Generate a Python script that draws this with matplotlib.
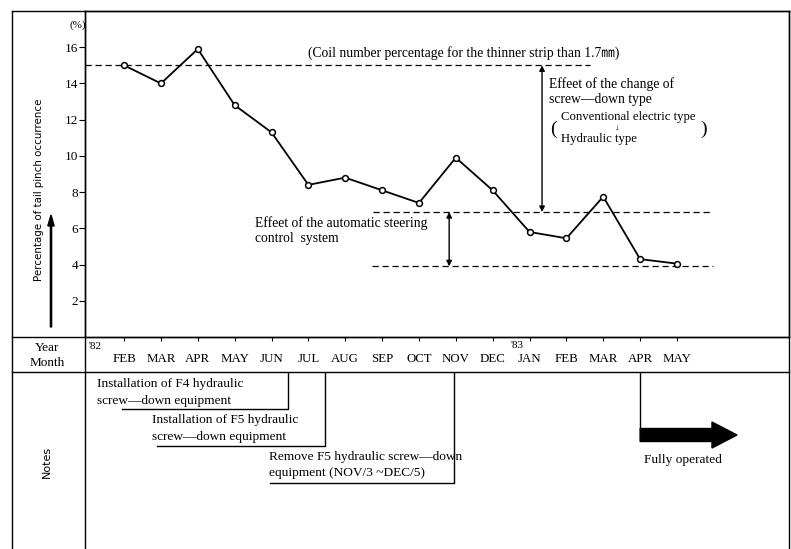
import numpy as np
import matplotlib
matplotlib.use('Agg')
import matplotlib.pyplot as plt
from matplotlib.lines import Line2D
from matplotlib.patches import FancyArrow

plt.rcParams['font.family'] = ['Liberation Serif', 'DejaVu Serif']

# monthly values, FEB '82 ... MAY '83
months = ['FEB', 'MAR', 'APR', 'MAY', 'JUN', 'JUL', 'AUG', 'SEP', 'OCT', 'NOV',
          'DEC', 'JAN', 'FEB', 'MAR', 'APR', 'MAY']
month_idx = np.arange(1, len(months) + 1)
pinch_pct = [15.0, 14.0, 15.9, 12.8, 11.3, 8.4, 8.8, 8.1, 7.4, 9.9,
             8.1, 5.8, 5.45, 7.75, 4.3, 4.05]

thin_strip_level = 15.0
hydraulic_level = 6.9
steering_level = 3.9

W, H = 791, 549
fig = plt.figure(figsize=(W / 100, H / 100), dpi=100)

def box(l, t, r, b):
    return [l / W, (H - b) / H, (r - l) / W, (b - t) / H]

xlim = (-0.06, 19.04)

# main chart
ax = fig.add_axes(box(85, 11, 789, 337))
ax.plot(month_idx, pinch_pct, color='black', lw=1.3, marker='o', ms=4.2,
        mfc='white', mec='black', mew=1.1, zorder=3)
ax.set_xlim(*xlim)
ax.set_ylim(0, 18)
ax.set_yticks(np.arange(2, 17, 2))
ax.set_xticks(month_idx)
ax.set_xticklabels([])
ax.tick_params(axis='y', direction='out', length=4, pad=1, labelsize=9.5)
ax.tick_params(axis='x', direction='out', length=3)
for s in ax.spines.values():
    s.set_linewidth(1.0)

dash = (0, (5, 3))
ax.plot([xlim[0], 13.64], [thin_strip_level] * 2, color='black', lw=0.9, ls=dash)
ax.plot([7.75, 16.98], [hydraulic_level] * 2, color='black', lw=0.9, ls=dash)
ax.plot([7.73, 16.98], [steering_level] * 2, color='black', lw=0.9, ls=dash)

ax.annotate('', xy=(12.34, thin_strip_level), xytext=(12.34, hydraulic_level),
            arrowprops=dict(arrowstyle='<|-|>', color='black', lw=1.0,
                            shrinkA=0, shrinkB=0, mutation_scale=8))
ax.annotate('', xy=(9.82, hydraulic_level), xytext=(9.82, steering_level),
            arrowprops=dict(arrowstyle='<|-|>', color='black', lw=1.0,
                            shrinkA=0, shrinkB=0, mutation_scale=8))

fs = 9.8
ax.text(6.0, 15.7, '(Coil number percentage for the thinner strip than 1.7㎜)',
        fontsize=fs, va='center', ha='left',
        family=['Liberation Serif', 'Noto Sans CJK JP'])
ax.text(12.53, 13.94, 'Effeet of the change of', fontsize=fs, va='center')
ax.text(12.53, 13.1, 'screw\u2014down type', fontsize=fs, va='center')
ax.text(12.86, 12.12, 'Conventional electric type', fontsize=fs - 0.6, va='center')
ax.text(12.86, 10.96, 'Hydraulic type', fontsize=fs - 0.6, va='center')
ax.text(14.37, 11.55, '\u2193', fontsize=6.5, va='center', ha='center')
ax.text(12.66, 11.45, '(', fontsize=14, va='center', ha='center')
ax.text(16.72, 11.45, ')', fontsize=14, va='center', ha='center')
ax.text(4.56, 6.31, 'Effeet of the automatic steering', fontsize=fs, va='center')
ax.text(4.56, 5.43, 'control  system', fontsize=fs, va='center')
ax.text(-0.02, 17.2, '(%)', fontsize=8, ha='right', va='center')

# year / month row
axm = fig.add_axes(box(85, 337, 789, 372))
axm.set_xlim(*xlim)
axm.set_ylim(0, 1)
axm.axis('off')
for m, lab in zip(month_idx, months):
    axm.text(m, 0.37, lab, fontsize=9.3, ha='center', va='center')
axm.text(0.22, 0.72, "'82", fontsize=8, ha='center', va='center')
axm.text(11.66, 0.77, "'83", fontsize=8, ha='center', va='center')

# notes area
axn = fig.add_axes(box(85, 372, 789, 549))
axn.set_xlim(*xlim)
axn.set_ylim(177, 0)
axn.axis('off')

nfs = 9.6
axn.text(0.27, 12, 'Installation of F4 hydraulic', fontsize=nfs, va='center')
axn.text(0.27, 29, 'screw\u2014down equipment', fontsize=nfs, va='center')
axn.plot([5.45, 5.45, 0.95], [0, 37, 37], color='black', lw=1.0)

axn.text(1.76, 48, 'Installation of F5 hydraulic', fontsize=nfs, va='center')
axn.text(1.76, 65, 'screw\u2014down equipment', fontsize=nfs, va='center')
axn.plot([6.45, 6.45, 1.9], [0, 74, 74], color='black', lw=1.0)

axn.text(4.93, 85, 'Remove F5 hydraulic screw\u2014down', fontsize=nfs, va='center')
axn.text(4.93, 101, 'equipment (NOV/3 ~DEC/5)', fontsize=nfs, va='center')
axn.plot([9.95, 9.95, 4.96], [0, 111, 111], color='black', lw=1.0)

axn.plot([15.0, 15.0], [0, 57], color='black', lw=1.0)
axn.add_patch(FancyArrow(15.0, 63, 2.63, 0, width=13, head_width=26,
                         head_length=0.68, length_includes_head=True,
                         color='black'))
axn.text(16.16, 88, 'Fully operated', fontsize=nfs, ha='center', va='center')

# left column labels
fig.text(47 / W, 1 - 348 / H, 'Year', fontsize=9.5, ha='center', va='center')
fig.text(47 / W, 1 - 363 / H, 'Month', fontsize=9.5, ha='center', va='center')
fig.text(47 / W, 1 - 462 / H, 'Notes', fontsize=8, ha='center', va='center',
         rotation=90, family='DejaVu Sans')
fig.text(39 / W, 1 - 190 / H, 'Percentage of tail pinch occurrence', fontsize=7.4,
         ha='center', va='center', rotation=90, family='DejaVu Sans')
fig.add_artist(FancyArrow(51 / W, 1 - 327 / H, 0, -(215 - 327) / H,
                          width=0.0015, head_width=0.008, head_length=0.02,
                          length_includes_head=True, color='black',
                          transform=fig.transFigure))

# frame lines
def fline(xs, ys, lw=1.0):
    fig.add_artist(Line2D([x / W for x in xs], [1 - y / H for y in ys],
                          color='black', lw=lw, transform=fig.transFigure))

fline([12, 789], [11, 11])
fline([12, 789], [337, 337])
fline([12, 789], [372, 372])
fline([12, 12], [11, 549])
fline([85, 85], [11, 549])
fline([789, 789], [11, 549])

fig.savefig('out.png', dpi=100)
